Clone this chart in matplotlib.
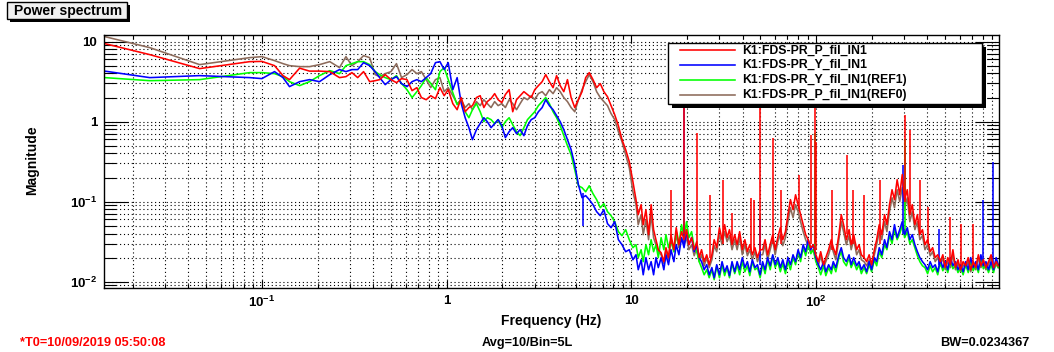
import numpy as np
import matplotlib.pyplot as plt
from matplotlib.ticker import FixedLocator, FixedFormatter, LogLocator, NullFormatter
from matplotlib.patches import Rectangle
from matplotlib.lines import Line2D

plt.rcParams['font.family'] = ['Liberation Sans', 'DejaVu Sans']
plt.rcParams['font.weight'] = 'bold'
plt.rcParams['mathtext.fontset'] = 'custom'
plt.rcParams['mathtext.rm'] = 'Liberation Sans:bold'
plt.rcParams['mathtext.bf'] = 'Liberation Sans:bold'
plt.rcParams['mathtext.it'] = 'Liberation Sans:bold'

# ---- data (Hz, magnitude) ----
freq_lo = [0.0141, 0.0247, 0.046, 0.0859, 0.1, 0.117, 0.13, 0.141, 0.16, 0.181,
           0.205, 0.233, 0.263, 0.285, 0.307, 0.33, 0.355, 0.383, 0.41, 0.434,
           0.465, 0.5, 0.535, 0.57, 0.61, 0.65, 0.69, 0.73, 0.775, 0.82,
           0.87, 0.92, 0.97, 1.02, 1.08, 1.14, 1.2, 1.26, 1.32, 1.38,
           1.45, 1.52, 1.59, 1.66, 1.74, 1.82, 1.9, 1.99, 2.08, 2.18,
           2.28, 2.39, 2.5, 2.62, 2.74, 2.87, 3.0, 3.14, 3.29, 3.44,
           3.6, 3.77, 3.94, 4.12, 4.31, 4.51, 4.72, 4.94, 5.17, 5.41,
           5.66, 5.92, 6.2, 6.49, 6.79, 7.1, 7.43, 7.77, 8.13, 8.51,
           8.9, 9.32, 9.75, 10.2]
freq_hi = [10.6, 10.9, 11.3, 11.6, 12.0, 12.4, 12.8, 13.2, 13.6, 14.0,
           14.5, 15.0, 15.4, 15.9, 16.4, 17.0, 17.5, 18.1, 18.7, 19.3,
           19.9, 20.5, 21.2, 21.9, 22.6, 23.3, 24.0, 24.8, 25.6, 26.4,
           27.3, 28.1, 29.0, 30.0, 31.0, 32.0, 33.0, 34.0, 35.1, 36.3,
           37.4, 38.6, 39.9, 41.2, 42.5, 43.8, 45.2, 46.7, 48.2, 49.8,
           51.4, 53.0, 54.7, 56.5, 58.3, 60.1, 62.1, 64.1, 66.1, 68.3,
           70.5, 72.7, 75.1, 77.5, 80.0, 82.5, 85.2, 87.9, 90.7, 93.7,
           96.7, 99.8, 103, 106, 110, 113, 117, 121, 124, 128,
           133, 137, 141, 146, 151, 155, 160, 166, 171, 176,
           182, 188, 194, 200, 207, 213, 220, 227, 235, 242,
           250, 258, 266, 275, 284, 293, 302, 312, 322, 332,
           343, 354, 365, 377, 389, 402, 415, 428, 442, 456,
           471, 486, 501, 517, 534, 551, 569, 587, 606, 626,
           646, 667, 688, 710, 733, 757, 781, 806, 832, 859,
           887, 915, 945, 970]

# K1:FDS-PR_P_fil_IN1 (red)
red_lo = [9.44, 6.88, 4.60, 5.62, 5.66, 5.01, 3.76, 3.35, 4.66, 4.28,
          4.28, 4.22, 3.55, 3.65, 4.10, 3.55, 4.22, 3.16, 3.25, 3.35,
          3.87, 3.35, 3.07, 3.45, 3.35, 2.44, 2.66, 2.00, 1.88, 2.11,
          1.94, 2.66, 2.11, 2.51, 1.68, 1.41, 2.00, 1.33, 1.50, 1.585,
          2.00, 2.11, 1.50, 1.78, 1.94, 2.24, 1.88, 1.73, 2.18, 2.51,
          1.33, 1.88, 2.11, 2.37, 2.18, 2.00, 2.51, 2.82, 3.16, 3.87,
          3.16, 2.66, 3.76, 2.82, 2.37, 3.35, 2.00, 1.50, 1.88, 2.37,
          3.55, 4.10, 3.35, 2.66, 2.99, 2.37, 2.05, 1.585, 1.22, 0.891,
          0.596, 0.447, 0.316, 0.178]
red_hi = [0.106, 0.0688, 0.0917, 0.0516, 0.0794, 0.0387, 0.0917, 0.0447, 0.0335, 0.0251,
          0.0230, 0.0178, 0.0266, 0.0200, 0.0387, 0.0251, 0.0473, 0.0290, 0.0422, 0.0335,
          0.0447, 0.0290, 0.0355, 0.0251, 0.0316, 0.0200, 0.0251, 0.0178, 0.0217, 0.0163,
          0.0217, 0.0335, 0.0266, 0.0473, 0.0335, 0.0516, 0.0355, 0.0447, 0.0290, 0.0387,
          0.0290, 0.0422, 0.0251, 0.0335, 0.0237, 0.0290, 0.0217, 0.0266, 0.0200, 0.0251,
          0.0251, 0.0335, 0.0217, 0.0290, 0.0387, 0.0251, 0.0355, 0.0473, 0.0335, 0.0422,
          0.0688, 0.106, 0.0794, 0.122, 0.0917, 0.0688, 0.0516, 0.0387, 0.0335, 0.0266,
          0.0290, 0.0217, 0.0178, 0.0237, 0.0163, 0.0200, 0.0251, 0.0335, 0.0266, 0.0217,
          0.0387, 0.0688, 0.0516, 0.0335, 0.0447, 0.0290, 0.0387, 0.0251, 0.0290, 0.0217,
          0.0200, 0.0178, 0.0217, 0.0163, 0.0251, 0.0335, 0.0516, 0.0387, 0.0688, 0.0516,
          0.0917, 0.141, 0.106, 0.188, 0.122, 0.218, 0.106, 0.141, 0.0688, 0.0917,
          0.0516, 0.0688, 0.0387, 0.0447, 0.0290, 0.0335, 0.0237, 0.0266, 0.0200, 0.0217,
          0.0178, 0.0217, 0.0150, 0.0200, 0.0163, 0.0251, 0.0150, 0.0188, 0.0141, 0.0178,
          0.0158, 0.0200, 0.0141, 0.0178, 0.0150, 0.0217, 0.0158, 0.0188, 0.0150, 0.0178,
          0.0217, 0.0150, 0.0178, 0.0158]

# K1:FDS-PR_Y_fil_IN1 (blue)
blue_lo = [4.28, 3.55, 3.76, 3.55, 3.45, 4.22, 3.55, 2.74, 3.16, 3.35,
           3.16, 3.87, 4.47, 4.22, 4.47, 4.47, 5.46, 5.01, 4.22, 3.55,
           2.90, 3.35, 3.65, 2.99, 2.74, 3.16, 3.35, 3.16, 3.55, 3.98,
           5.46, 5.62, 4.47, 5.46, 2.51, 3.55, 1.68, 1.12, 0.841, 0.596,
           0.794, 0.944, 1.12, 1.00, 0.841, 0.944, 1.06, 0.891, 0.631, 0.750,
           0.841, 0.708, 0.794, 0.668, 0.891, 1.06, 1.12, 1.33, 1.50, 1.88,
           1.585, 1.41, 1.19, 1.00, 0.794, 0.596, 0.447, 0.290, 0.163, 0.112,
           0.119, 0.106, 0.0917, 0.0750, 0.0668, 0.0794, 0.0531, 0.0473, 0.0562, 0.0335,
           0.0290, 0.0237, 0.0251, 0.0188]
blue_hi = [0.0217, 0.0141, 0.0188, 0.0122, 0.0200, 0.0141, 0.0178, 0.0122, 0.0200, 0.0150,
           0.0200, 0.0141, 0.0217, 0.0163, 0.0251, 0.0178, 0.0290, 0.0217, 0.0355, 0.0266,
           0.0422, 0.0290, 0.0355, 0.0237, 0.0290, 0.0200, 0.0178, 0.0141, 0.0163, 0.0122,
           0.0150, 0.0112, 0.0163, 0.0122, 0.0178, 0.0133, 0.0158, 0.0119, 0.0178, 0.0133,
           0.0178, 0.0141, 0.0200, 0.0150, 0.0178, 0.0133, 0.0188, 0.0150, 0.0163, 0.0122,
           0.0178, 0.0141, 0.0200, 0.0158, 0.0217, 0.0163, 0.0200, 0.0150, 0.0188, 0.0141,
           0.0200, 0.0163, 0.0217, 0.0178, 0.0251, 0.0200, 0.0290, 0.0237, 0.0335, 0.0251,
           0.0290, 0.0200, 0.0163, 0.0141, 0.0178, 0.0133, 0.0163, 0.0141, 0.0178, 0.0150,
           0.0217, 0.0266, 0.0200, 0.0178, 0.0217, 0.0163, 0.0200, 0.0158, 0.0178, 0.0141,
           0.0163, 0.0133, 0.0178, 0.0141, 0.0200, 0.0178, 0.0266, 0.0217, 0.0335, 0.0266,
           0.0422, 0.0335, 0.0516, 0.0355, 0.0447, 0.0562, 0.0387, 0.0473, 0.0335, 0.0387,
           0.0290, 0.0237, 0.0200, 0.0178, 0.0163, 0.0141, 0.0178, 0.0150, 0.0163, 0.0133,
           0.0188, 0.0150, 0.0178, 0.0141, 0.0200, 0.0158, 0.0178, 0.0141, 0.0163, 0.0133,
           0.0178, 0.0141, 0.0200, 0.0150, 0.0178, 0.0141, 0.0217, 0.0158, 0.0178, 0.0141,
           0.0178, 0.0141, 0.0200, 0.0163]

# K1:FDS-PR_Y_fil_IN1(REF1) (green)
green_lo = [3.55, 3.25, 3.35, 4.10, 4.10, 3.98, 3.65, 3.16, 2.82, 3.16,
            3.76, 4.34, 3.98, 5.01, 5.31, 5.62, 5.62, 5.16, 4.22, 3.87,
            3.55, 3.35, 3.76, 2.99, 2.51, 2.00, 2.37, 2.82, 3.55, 2.99,
            2.51, 4.22, 4.73, 3.35, 2.30, 1.63, 1.88, 1.33, 1.12, 1.41,
            1.68, 1.33, 1.00, 1.12, 1.06, 0.944, 1.06, 0.841, 1.00, 1.12,
            0.917, 0.750, 0.668, 0.841, 1.06, 1.19, 1.33, 1.585, 1.78, 2.00,
            1.68, 1.33, 1.12, 0.891, 0.668, 0.501, 0.387, 0.251, 0.158, 0.1496,
            0.133, 0.158, 0.126, 0.106, 0.0841, 0.0944, 0.0750, 0.0668, 0.0562, 0.0422,
            0.0376, 0.0447, 0.0335, 0.0266]
green_hi = [0.0290, 0.0200, 0.0251, 0.0178, 0.0290, 0.0217, 0.0335, 0.0237, 0.0290, 0.0200,
            0.0355, 0.0251, 0.0387, 0.0266, 0.0335, 0.0237, 0.0422, 0.0290, 0.0516, 0.0355,
            0.0562, 0.0355, 0.0422, 0.0266, 0.0237, 0.0178, 0.0150, 0.0122, 0.0141, 0.0112,
            0.0141, 0.0106, 0.0158, 0.0112, 0.0163, 0.0119, 0.0150, 0.0112, 0.0168, 0.0126,
            0.0163, 0.0122, 0.0178, 0.0133, 0.0158, 0.0119, 0.0178, 0.0141, 0.0150, 0.0112,
            0.0163, 0.0126, 0.0188, 0.0141, 0.0211, 0.0150, 0.0178, 0.0133, 0.0168, 0.0126,
            0.0178, 0.0141, 0.0200, 0.0163, 0.0237, 0.0178, 0.0266, 0.0211, 0.0290, 0.0224,
            0.0251, 0.0178, 0.0150, 0.0122, 0.0158, 0.0119, 0.0150, 0.0126, 0.0163, 0.0133,
            0.0200, 0.0237, 0.0178, 0.0158, 0.0200, 0.0150, 0.0178, 0.0141, 0.0163, 0.0126,
            0.0150, 0.0126, 0.0163, 0.0133, 0.0188, 0.0158, 0.0237, 0.0200, 0.0290, 0.0251,
            0.0376, 0.0299, 0.0447, 0.0335, 0.0398, 0.0501, 0.0355, 0.0422, 0.0299, 0.0335,
            0.0266, 0.0211, 0.0178, 0.0158, 0.0150, 0.0126, 0.0158, 0.0133, 0.0150, 0.0122,
            0.0173, 0.0137, 0.0163, 0.0130, 0.0183, 0.0145, 0.0163, 0.0130, 0.0150, 0.0122,
            0.0163, 0.0130, 0.0178, 0.0137, 0.0163, 0.0130, 0.0200, 0.0145, 0.0163, 0.0130,
            0.0163, 0.0130, 0.0183, 0.0150]

# K1:FDS-PR_P_fil_IN1(REF0) (brown)
brown_lo = [11.55, 8.41, 5.16, 6.31, 6.49, 5.79, 5.31, 5.01, 4.87, 4.87,
            5.16, 5.62, 4.73, 6.49, 5.01, 5.62, 6.68, 6.31, 3.87, 3.65,
            3.98, 4.22, 5.31, 3.55, 3.87, 4.47, 3.98, 4.22, 3.35, 2.66,
            3.35, 3.55, 2.37, 2.66, 2.11, 1.68, 1.88, 1.50, 1.68, 1.41,
            1.78, 1.585, 1.88, 1.68, 1.50, 1.78, 1.585, 1.68, 1.50, 1.88,
            1.68, 1.41, 1.68, 2.00, 1.88, 2.11, 1.88, 2.24, 2.37, 2.11,
            2.51, 2.24, 2.66, 2.37, 2.00, 1.78, 1.50, 1.33, 1.88, 2.51,
            3.16, 3.87, 3.16, 2.37, 2.00, 1.78, 1.585, 1.26, 1.06, 0.750,
            0.562, 0.387, 0.266, 0.133]
brown_hi = [0.0917, 0.0516, 0.0688, 0.0387, 0.0596, 0.0335, 0.0688, 0.0355, 0.0290, 0.0237,
            0.0217, 0.0168, 0.0251, 0.0188, 0.0335, 0.0237, 0.0387, 0.0266, 0.0355, 0.0290,
            0.0355, 0.0251, 0.0290, 0.0211, 0.0266, 0.0178, 0.0217, 0.0158, 0.0200, 0.0150,
            0.0188, 0.0282, 0.0237, 0.0387, 0.0290, 0.0422, 0.0316, 0.0376, 0.0251, 0.0335,
            0.0251, 0.0355, 0.0217, 0.0290, 0.0211, 0.0251, 0.0188, 0.0237, 0.0178, 0.0217,
            0.0217, 0.0290, 0.0188, 0.0251, 0.0335, 0.0217, 0.0316, 0.0387, 0.0282, 0.0355,
            0.0562, 0.0841, 0.0631, 0.0917, 0.0750, 0.0562, 0.0422, 0.0335, 0.0282, 0.0237,
            0.0251, 0.0188, 0.0158, 0.0211, 0.0150, 0.0178, 0.0217, 0.0290, 0.0237, 0.0188,
            0.0335, 0.0562, 0.0422, 0.0290, 0.0376, 0.0251, 0.0335, 0.0217, 0.0251, 0.0188,
            0.0178, 0.0158, 0.0188, 0.0150, 0.0217, 0.0290, 0.0422, 0.0335, 0.0562, 0.0422,
            0.0750, 0.112, 0.0841, 0.141, 0.100, 0.1496, 0.0841, 0.112, 0.0562, 0.0750,
            0.0447, 0.0562, 0.0335, 0.0376, 0.0251, 0.0290, 0.0211, 0.0237, 0.0178, 0.0200,
            0.0158, 0.0200, 0.0141, 0.0178, 0.0150, 0.0217, 0.0141, 0.0173, 0.0133, 0.0163,
            0.0150, 0.0178, 0.0133, 0.0163, 0.0141, 0.0200, 0.0150, 0.0173, 0.0141, 0.0163,
            0.0200, 0.0141, 0.0163, 0.0150]

# narrow lines (freq, from, to)
red_spk_f = [16.3, 19.4, 22.6, 26.6, 31.3, 35.3, 44.4, 45.9, 50.0, 58.2, 65.0, 80.5, 93.5, 98.2, 100.6,
             122, 147, 158, 181, 221, 302, 321, 364, 405, 529, 612, 704]
red_spk_lo = [0.03, 0.04, 0.03, 0.02, 0.03, 0.03, 0.025, 0.025, 0.025, 0.03, 0.03, 0.08, 0.03, 0.03, 0.025,
              0.025, 0.04, 0.03, 0.02, 0.03, 0.1, 0.08, 0.04, 0.03, 0.018, 0.016, 0.016]
red_spk_hi = [0.141, 1.9, 0.73, 0.122, 0.188, 0.073, 0.112, 0.106, 1.54, 0.63, 0.141, 0.218, 0.69, 1.50, 0.55,
              0.141, 0.387, 0.141, 0.122, 0.188, 1.22, 0.794, 0.188, 0.087, 0.065, 0.052, 0.052]
blue_spk_f = [5.5, 19.4, 49.5, 294, 466, 798, 906]
blue_spk_lo = [0.13, 0.03, 0.016, 0.04, 0.016, 0.016, 0.016]
blue_spk_hi = [0.049, 1.88, 0.06, 0.29, 0.045, 0.106, 0.31]
green_spk_f = [19.4, 98.2, 302]
green_spk_lo = [0.04, 0.02, 0.04]
green_spk_hi = [0.12, 0.73, 0.6]
brown_spk_f = [50.0, 98.2, 302]
brown_spk_lo = [0.025, 0.025, 0.08]
brown_spk_hi = [0.069, 0.14, 0.45]

names = ['K1:FDS-PR_P_fil_IN1', 'K1:FDS-PR_Y_fil_IN1',
         'K1:FDS-PR_Y_fil_IN1(REF1)', 'K1:FDS-PR_P_fil_IN1(REF0)']
colors = ['#ff0000', '#0000ff', '#00ff00', '#8c6a5a']

freq = freq_lo + freq_hi
series = [red_lo + red_hi, blue_lo + blue_hi, green_lo + green_hi, brown_lo + brown_hi]
spikes = [(red_spk_f, red_spk_lo, red_spk_hi), (blue_spk_f, blue_spk_lo, blue_spk_hi),
          (green_spk_f, green_spk_lo, green_spk_hi), (brown_spk_f, brown_spk_lo, brown_spk_hi)]
for s in series:
    assert len(s) == len(freq), (len(s), len(freq))

W, H = 1054, 352
fig = plt.figure(figsize=(W / 100, H / 100), dpi=100)
ax = fig.add_axes([104 / W, 1 - 288 / H, 895 / W, 253 / H])

# draw order: brown, green, blue, red
for i in [3, 2, 1, 0]:
    ax.plot(freq, series[i], color=colors[i], lw=1.15, zorder=2)
    f, lo, hi = spikes[i]
    ax.vlines(f, lo, hi, colors=colors[i], lw=1.15, zorder=2)

ax.set_xscale('log')
ax.set_yscale('log')
ax.set_xlim(0.01396, 979)
ax.set_ylim(0.00834, 12.1)

ax.xaxis.set_major_locator(FixedLocator([0.1, 1, 10, 100]))
ax.xaxis.set_major_formatter(FixedFormatter([r'$10^{-1}$', '1', '10', r'$10^{2}$']))
ax.yaxis.set_major_locator(FixedLocator([0.01, 0.1, 1, 10]))
ax.yaxis.set_major_formatter(FixedFormatter([r'$10^{-2}$', r'$10^{-1}$', '1', '10']))
for a in (ax.xaxis, ax.yaxis):
    a.set_minor_locator(LogLocator(base=10, subs=np.arange(2, 10), numticks=100))
    a.set_minor_formatter(NullFormatter())

ax.grid(which='both', color='black', linestyle=(0, (1, 2.5)), linewidth=0.8)
ax.set_axisbelow(True)
ax.tick_params(which='both', direction='in', top=True, right=True, labelsize=9.5, width=0.8)
ax.tick_params(axis='y', which='major', length=17, pad=5)
ax.tick_params(axis='y', which='minor', length=8.5)
ax.tick_params(axis='x', which='major', length=5.5, pad=5)
ax.tick_params(axis='x', which='minor', length=2.8)
for sp in ax.spines.values():
    sp.set_linewidth(1.0)

fig.text(551 / W, 1 - 321 / H, 'Frequency (Hz)', ha='center', va='center', fontsize=10, fontweight='bold')
fig.text(32 / W, 1 - 160 / H, 'Magnitude', ha='center', va='center', rotation=90, fontsize=10, fontweight='bold')


def px(x, y):
    return x / W, 1 - y / H


def box(x0, y0, x1, y1, off, face):
    fig.add_artist(Rectangle(px(x0 + off, y1 + off), (x1 - x0) / W, (y1 - y0) / H,
                             transform=fig.transFigure, facecolor='black', edgecolor='black', lw=0, zorder=5))
    fig.add_artist(Rectangle(px(x0, y1), (x1 - x0) / W, (y1 - y0) / H,
                             transform=fig.transFigure, facecolor=face, edgecolor='black', lw=1.0, zorder=6))


# title box
box(7, 2, 127, 19, 3, '#f0f0f0')
fig.text(68 / W, 1 - 10.5 / H, 'Power spectrum', ha='center', va='center', fontsize=10, fontweight='bold', zorder=7)

# legend
box(668, 43, 982, 104, 4, 'white')
rows = [50.3, 65, 80, 95]
for i in range(4):
    fig.add_artist(Line2D([680 / W, 735 / W], [1 - rows[i] / H] * 2, transform=fig.transFigure,
                          color=colors[i], lw=1.15, zorder=7))
    fig.text(742 / W, 1 - rows[i] / H, names[i], ha='left', va='center', fontsize=8.8, fontweight='bold', zorder=7)

fig.text(20 / W, 1 - 343 / H, '*T0=10/09/2019 05:50:08', ha='left', va='center', fontsize=9.2,
         fontweight='bold', color='red')
fig.text(527 / W, 1 - 343 / H, 'Avg=10/Bin=5L', ha='center', va='center', fontsize=9.2, fontweight='bold')
fig.text(1029 / W, 1 - 343 / H, 'BW=0.0234367', ha='right', va='center', fontsize=9.2, fontweight='bold')

fig.savefig('out.png', dpi=100)
